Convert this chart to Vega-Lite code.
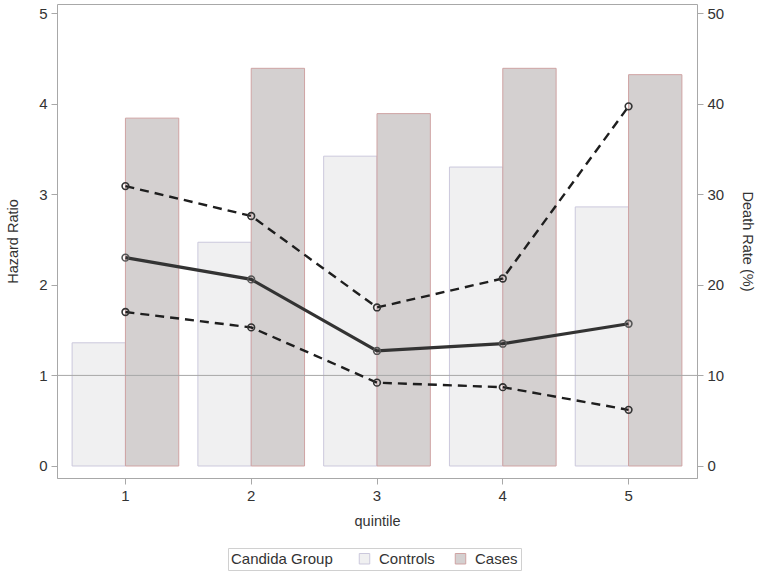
{
 "$schema": "https://vega.github.io/schema/vega-lite/v6.json",
 "width": 640,
 "height": 474,
 "autosize": {"type": "none"},
 "padding": {"left": 57, "top": 4, "right": 67, "bottom": 97},
 "background": "white",
 "config": {
  "font": "Liberation Sans",
  "view": {"stroke": "#a8a8a8", "strokeWidth": 1},
  "axis": {"labelFontSize": 15, "titleFontSize": 14.5, "titleFontWeight": "normal", "labelColor": "#333333", "titleColor": "#333333", "tickColor": "#a8a8a8", "domain": false, "grid": false, "tickSize": 6, "labelPadding": 4}
 },
 "datasets": {
  "bars": [
   {"quintile": "1", "group": "Controls", "rate": 13.6},
   {"quintile": "1", "group": "Cases", "rate": 38.4},
   {"quintile": "2", "group": "Controls", "rate": 24.7},
   {"quintile": "2", "group": "Cases", "rate": 43.9},
   {"quintile": "3", "group": "Controls", "rate": 34.2},
   {"quintile": "3", "group": "Cases", "rate": 38.9},
   {"quintile": "4", "group": "Controls", "rate": 33.0},
   {"quintile": "4", "group": "Cases", "rate": 43.9},
   {"quintile": "5", "group": "Controls", "rate": 28.6},
   {"quintile": "5", "group": "Cases", "rate": 43.2}
  ],
  "hr": [
   {"quintile": "1", "hr": 2.30},
   {"quintile": "2", "hr": 2.06},
   {"quintile": "3", "hr": 1.27},
   {"quintile": "4", "hr": 1.35},
   {"quintile": "5", "hr": 1.57}
  ],
  "ci": [
   {"quintile": "1", "bound": "upper", "value": 3.09},
   {"quintile": "2", "bound": "upper", "value": 2.76},
   {"quintile": "3", "bound": "upper", "value": 1.75},
   {"quintile": "4", "bound": "upper", "value": 2.07},
   {"quintile": "5", "bound": "upper", "value": 3.97},
   {"quintile": "1", "bound": "lower", "value": 1.70},
   {"quintile": "2", "bound": "lower", "value": 1.53},
   {"quintile": "3", "bound": "lower", "value": 0.92},
   {"quintile": "4", "bound": "lower", "value": 0.87},
   {"quintile": "5", "bound": "lower", "value": 0.62}
  ]
 },
 "layer": [
  {
   "data": {"name": "bars"},
   "mark": {"type": "bar", "strokeWidth": 1},
   "encoding": {
    "x": {"field": "quintile", "type": "ordinal", "scale": {"paddingInner": 0.152, "paddingOuter": 0.12},
          "axis": {"title": "quintile", "labelAngle": 0, "domain": true, "domainColor": "#a8a8a8", "titlePadding": 11}},
    "xOffset": {"field": "group", "type": "nominal", "sort": ["Controls", "Cases"], "scale": {"paddingInner": 0, "paddingOuter": 0}},
    "y": {"field": "rate", "type": "quantitative", "scale": {"domain": [-1.325, 51], "nice": false, "zero": false},
          "axis": {"orient": "right", "values": [0, 10, 20, 30, 40, 50], "title": "Death Rate (%)", "titlePadding": 16}},
    "y2": {"datum": 0},
    "fill": {"field": "group", "type": "nominal", "sort": ["Controls", "Cases"],
             "scale": {"domain": ["Controls", "Cases"], "range": ["#f0f0f1", "#d4d0d0"]},
             "legend": {"title": "Candida Group", "orient": "none", "legendX": 171, "legendY": 544, "direction": "horizontal",
                        "titleOrient": "left", "strokeColor": "#d0d0d0", "padding": 3, "symbolType": "square", "symbolSize": 110,
                        "labelFontSize": 15, "titleFontSize": 15, "titleFontWeight": "normal", "titleColor": "#333333", "labelColor": "#333333",
                        "titlePadding": 24, "columnPadding": 18, "labelOffset": 7, "symbolStrokeWidth": 1}},
    "stroke": {"field": "group", "type": "nominal", "sort": ["Controls", "Cases"],
               "scale": {"domain": ["Controls", "Cases"], "range": ["#cbc8dc", "#cfa3a3"]}}
   }
  },
  {
   "layer": [
    {
     "data": {"values": [{"ref": 1}]},
     "mark": {"type": "rule", "color": "#a8a8a8", "strokeWidth": 1},
     "encoding": {"y": {"field": "ref", "type": "quantitative", "scale": {"domain": [-0.1325, 5.1], "nice": false, "zero": false}}}
    },
    {
     "data": {"name": "ci"},
     "mark": {"type": "line", "strokeDash": [9, 6], "strokeWidth": 2.4, "color": "#1e1e1e"},
     "encoding": {
      "x": {"field": "quintile", "type": "ordinal"},
      "y": {"field": "value", "type": "quantitative", "scale": {"domain": [-0.1325, 5.1], "nice": false, "zero": false},
            "axis": {"orient": "left", "values": [0, 1, 2, 3, 4, 5], "format": "d", "title": "Hazard Ratio", "titlePadding": 18}},
      "detail": {"field": "bound", "type": "nominal"}
     }
    },
    {
     "data": {"name": "hr"},
     "mark": {"type": "line", "strokeWidth": 3.2, "color": "#333333"},
     "encoding": {
      "x": {"field": "quintile", "type": "ordinal"},
      "y": {"field": "hr", "type": "quantitative"}
     }
    },
    {
     "data": {"name": "ci"},
     "mark": {"type": "point", "filled": false, "stroke": "#333333", "strokeWidth": 1.6, "size": 45, "opacity": 1},
     "encoding": {
      "x": {"field": "quintile", "type": "ordinal"},
      "y": {"field": "value", "type": "quantitative"}
     }
    },
    {
     "data": {"name": "hr"},
     "mark": {"type": "point", "filled": false, "stroke": "#555555", "strokeWidth": 1.6, "size": 45, "opacity": 1},
     "encoding": {
      "x": {"field": "quintile", "type": "ordinal"},
      "y": {"field": "hr", "type": "quantitative"}
     }
    }
   ]
  }
 ],
 "resolve": {"scale": {"y": "independent", "fill": "independent", "stroke": "independent"}}
}
